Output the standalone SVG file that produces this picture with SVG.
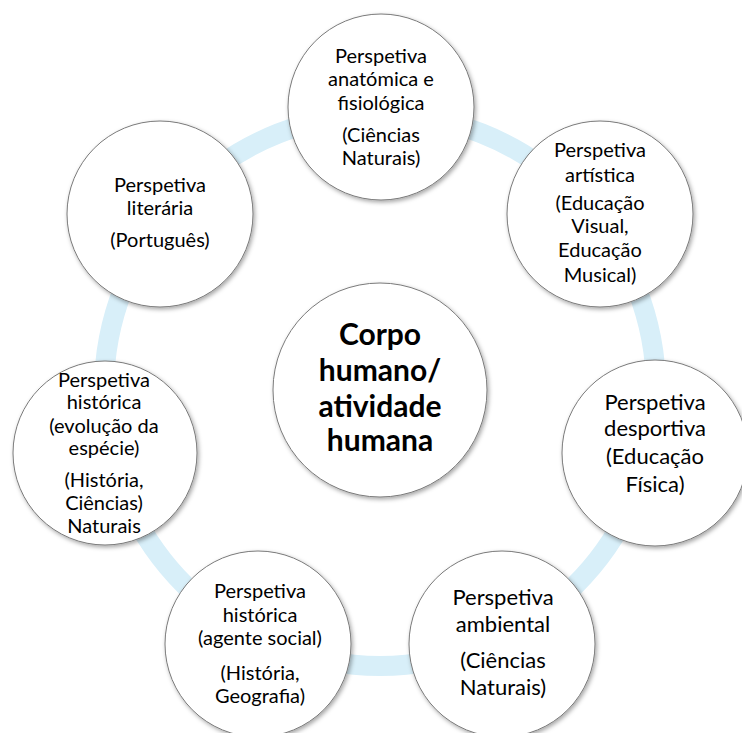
<svg xmlns="http://www.w3.org/2000/svg" width="742" height="733" viewBox="0 0 742 733">
  <defs>
    <filter id="sh" x="-20%" y="-20%" width="140%" height="140%">
      <feDropShadow dx="1.5" dy="2" stdDeviation="2" flood-color="#000" flood-opacity="0.35"/>
    </filter>
    <style>
      .node { fill: #ffffff; stroke: #7a7a7a; stroke-width: 1; filter: url(#sh); }
      .t { font-family: Lato, "Noto Sans", sans-serif; font-size: 20px; fill: #000; text-anchor: middle; }
      .tl { font-size: 22px; }
      .tc { font-size: 30px; font-weight: bold; }
      .ring { fill: none; stroke: #d8eff9; stroke-width: 20; }
    </style>
  </defs>
  <rect width="742" height="733" fill="#ffffff"/>
  <g id="connectors">
    <circle class="ring" cx="380" cy="390" r="276"/>
  </g>
  <g id="center">
    <circle class="node" cx="380" cy="390" r="107"/>
    <text class="t tc" x="380" y="345">Corpo</text>
    <text class="t tc" x="380" y="381">humano/</text>
    <text class="t tc" x="380" y="417">atividade</text>
    <text class="t tc" x="380" y="451">humana</text>
  </g>
  <g id="n-anatomica">
    <circle class="node" cx="381" cy="107" r="93"/>
    <text class="t" x="381" y="63">Perspetiva</text>
    <text class="t" x="381" y="86">anatómica e</text>
    <text class="t" x="381" y="110">fisiológica</text>
    <text class="t" x="381" y="142">(Ciências</text>
    <text class="t" x="381" y="165">Naturais)</text>
  </g>
  <g id="n-artistica">
    <circle class="node" cx="600" cy="214" r="93"/>
    <text class="t" x="600" y="157">Perspetiva</text>
    <text class="t" x="600" y="182">artística</text>
    <text class="t" x="600" y="210">(Educação</text>
    <text class="t" x="600" y="233">Visual,</text>
    <text class="t" x="600" y="257">Educação</text>
    <text class="t" x="600" y="282">Musical)</text>
  </g>
  <g id="n-desportiva">
    <circle class="node" cx="655" cy="453" r="93"/>
    <text class="t tl" x="655" y="410">Perspetiva</text>
    <text class="t tl" x="655" y="436">desportiva</text>
    <text class="t tl" x="655" y="464">(Educação</text>
    <text class="t tl" x="655" y="492">Física)</text>
  </g>
  <g id="n-ambiental">
    <circle class="node" cx="502" cy="644" r="93"/>
    <text class="t tl" x="503" y="605">Perspetiva</text>
    <text class="t tl" x="503" y="632">ambiental</text>
    <text class="t tl" x="503" y="668">(Ciências</text>
    <text class="t tl" x="503" y="695">Naturais)</text>
  </g>
  <g id="n-social">
    <circle class="node" cx="258" cy="644" r="93"/>
    <text class="t" x="260" y="598">Perspetiva</text>
    <text class="t" x="260" y="622">histórica</text>
    <text class="t" x="260" y="645">(agente social)</text>
    <text class="t" x="260" y="680">(História,</text>
    <text class="t" x="260" y="703">Geografia)</text>
  </g>
  <g id="n-evolucao">
    <circle class="node" cx="105" cy="453" r="92"/>
    <text class="t" x="104" y="387">Perspetiva</text>
    <text class="t" x="104" y="409">histórica</text>
    <text class="t" x="104" y="433">(evolução da</text>
    <text class="t" x="104" y="455">espécie)</text>
    <text class="t" x="104" y="487">(História,</text>
    <text class="t" x="104" y="510">Ciências)</text>
    <text class="t" x="104" y="533">Naturais</text>
  </g>
  <g id="n-literaria">
    <circle class="node" cx="160" cy="214" r="93"/>
    <text class="t" x="160" y="192">Perspetiva</text>
    <text class="t" x="160" y="215">literária</text>
    <text class="t" x="160" y="247">(Português)</text>
  </g>
</svg>
